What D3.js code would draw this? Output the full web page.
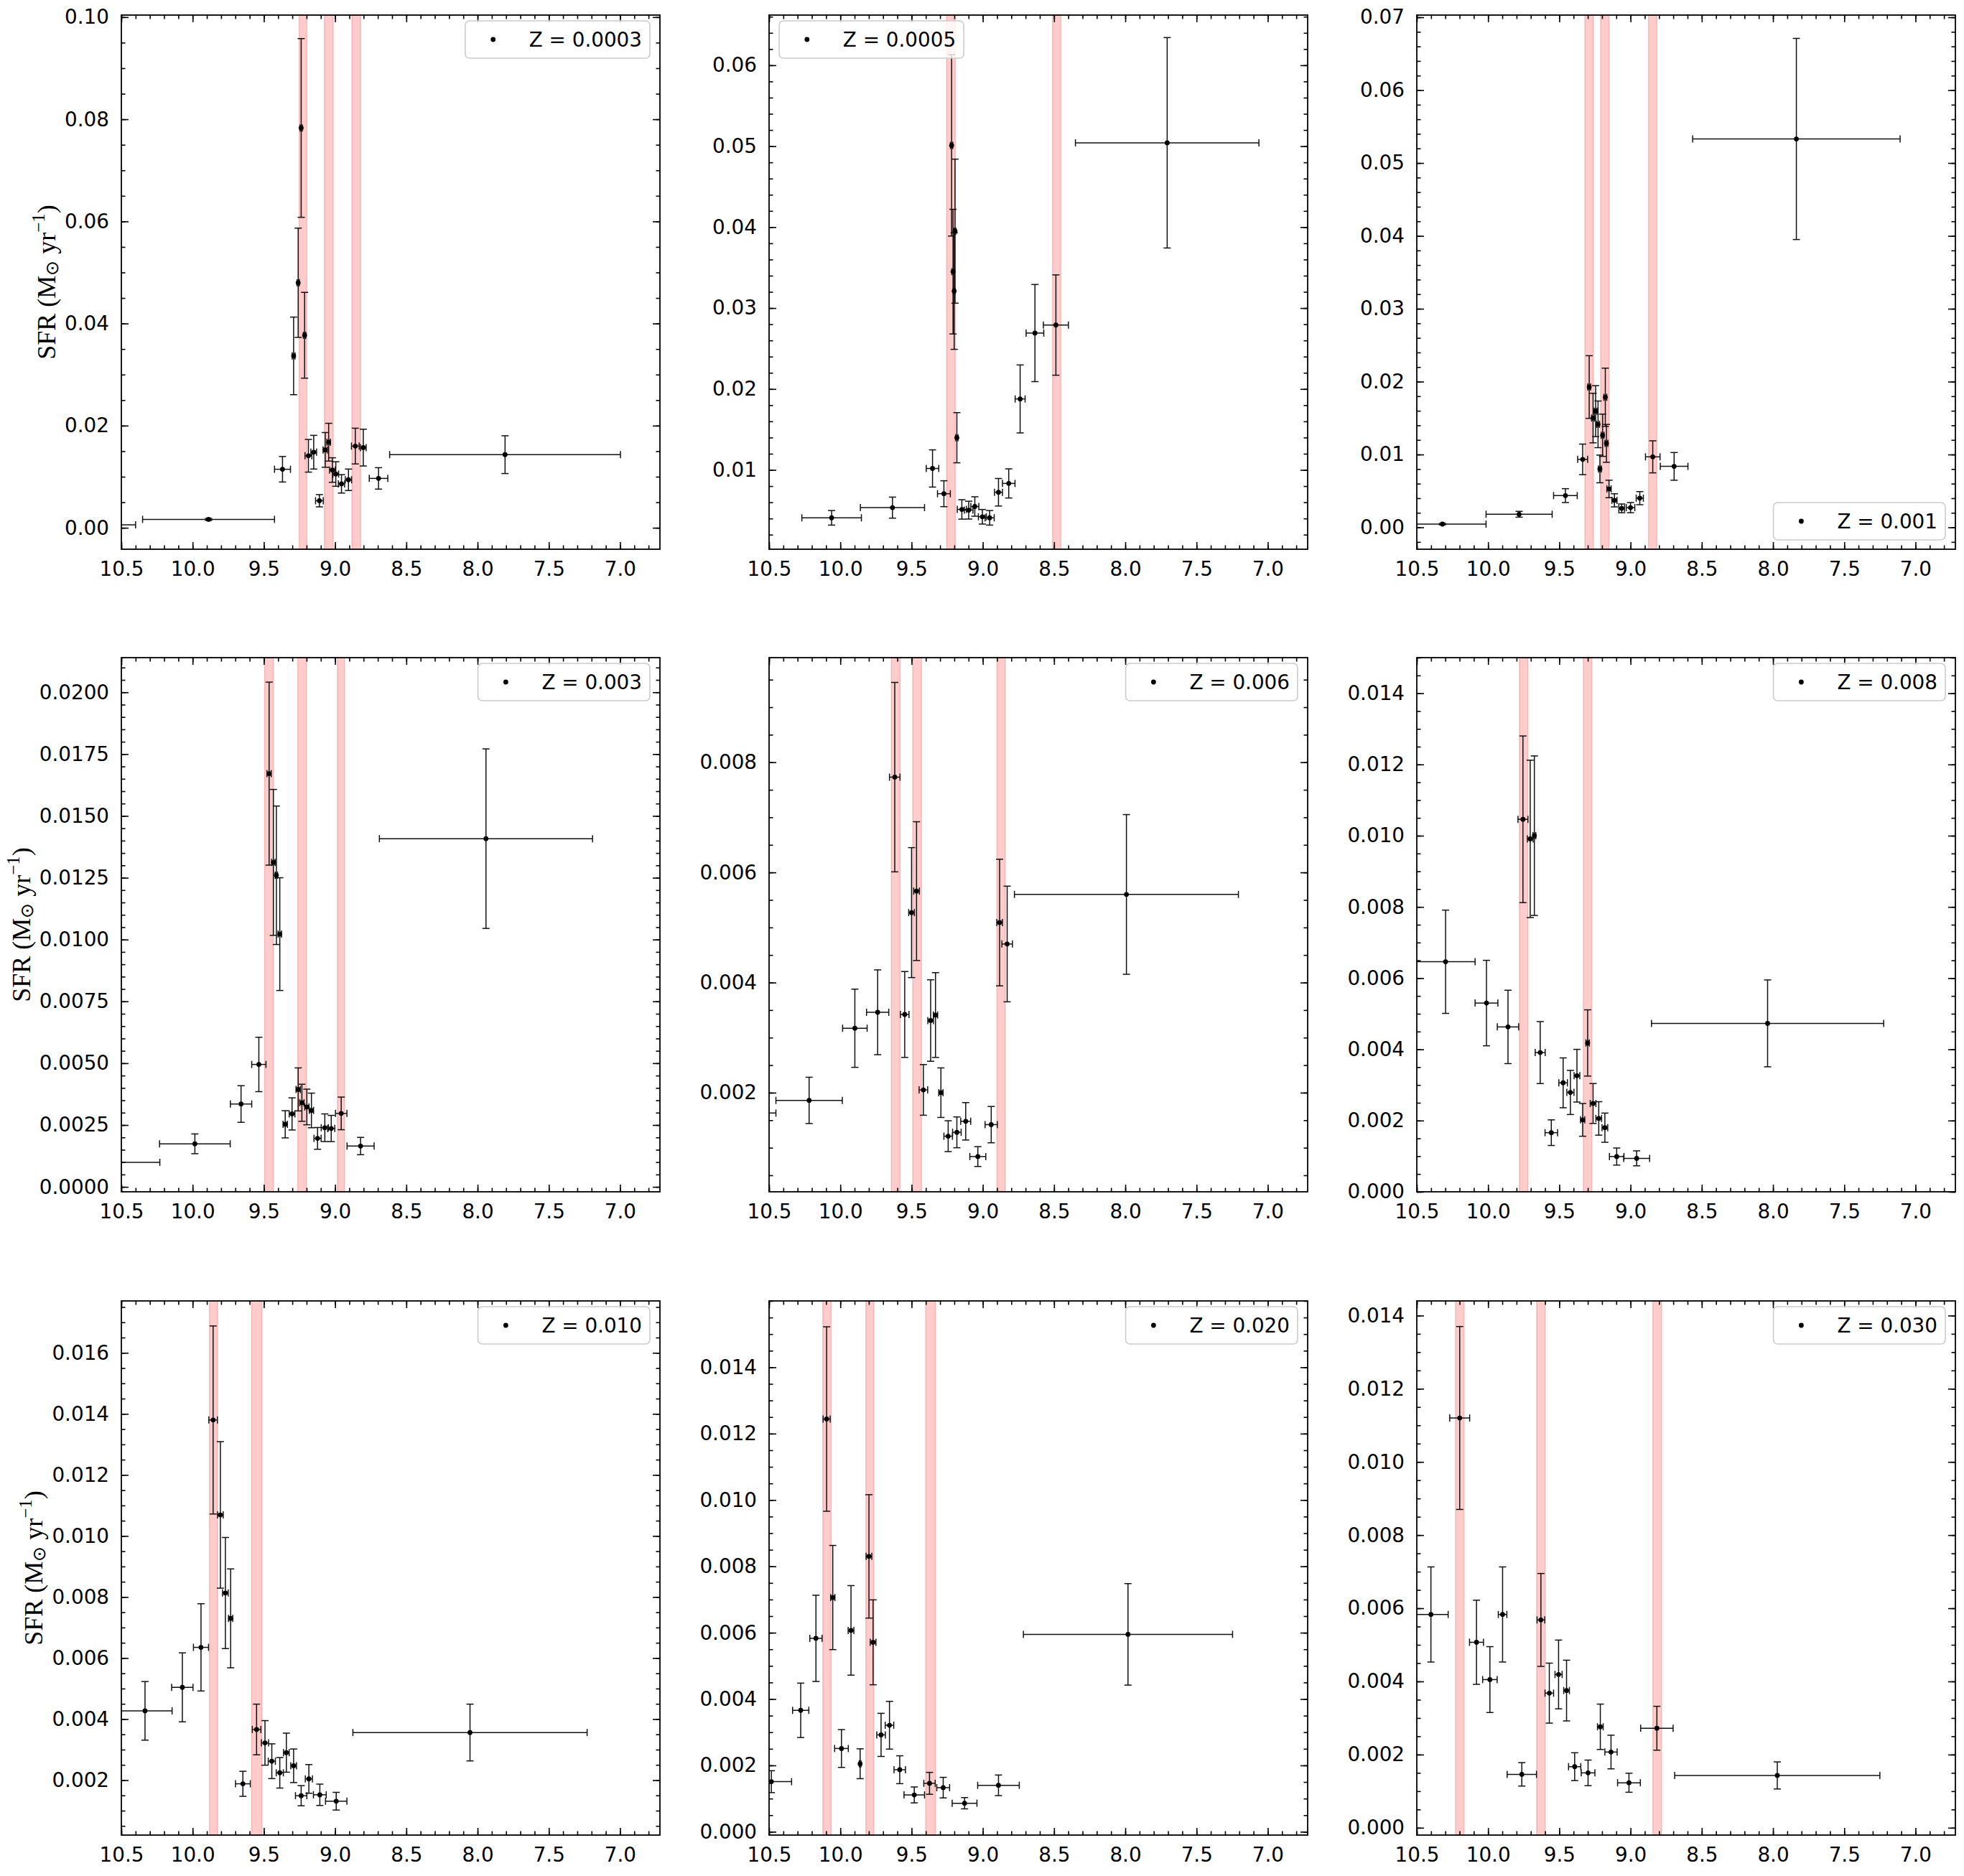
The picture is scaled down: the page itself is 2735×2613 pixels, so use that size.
<!DOCTYPE html>
<html>
<head>
<meta charset="utf-8">
<script src="https://cdn.jsdelivr.net/npm/d3@7"></script>
<style>
body{margin:0;background:#fff;}
</style>
</head>
<body>
<div id="chart"></div>
<script>
// each row: [log age, age err, SFR, SFR err]
var z0003 = [
	[10.65,0.25,0.00057,0.0002],[9.888,0.463,0.00165,0.0002],[9.369,0.056,0.01146,0.0025],
	[9.291,0.010,0.03366,0.0076],[9.259,0.008,0.04798,0.0107],[9.238,0.008,0.0783,0.0175],
	[9.214,0.008,0.0377,0.0084],[9.187,0.024,0.0141,0.0032],[9.150,0.020,0.0148,0.0033],
	[9.110,0.027,0.0053,0.0012],[9.069,0.015,0.01525,0.0034],[9.045,0.012,0.01676,0.0037],
	[9.019,0.020,0.01131,0.0024],[8.995,0.020,0.01053,0.0024],[8.955,0.022,0.0086,0.0018],
	[8.906,0.022,0.0094,0.0021],[8.858,0.027,0.0160,0.0035],[8.802,0.020,0.0157,0.0036],
	[8.695,0.065,0.00967,0.0021],[7.807,0.81,0.01432,0.0037]
];
var z0005 = [
	[10.061,0.209,0.00408,0.0009],[9.634,0.225,0.00534,0.0013],[9.353,0.044,0.01018,0.0023],
	[9.273,0.045,0.00706,0.0016],[9.219,0.008,0.0501,0.0112],[9.209,0.008,0.0345,0.0077],
	[9.201,0.006,0.0321,0.0072],[9.195,0.006,0.0395,0.0089],[9.182,0.008,0.01398,0.0031],
	[9.147,0.032,0.00512,0.0012],[9.099,0.030,0.00503,0.0011],[9.056,0.028,0.00548,0.0012],
	[9.003,0.028,0.00421,0.0009],[8.952,0.032,0.00408,0.0009],[8.890,0.028,0.00724,0.0017],
	[8.818,0.044,0.00833,0.0018],[8.738,0.035,0.01877,0.0042],[8.634,0.062,0.02691,0.0060],
	[8.487,0.088,0.0279,0.0062],[7.706,0.644,0.05042,0.0130]
];
var z001 = [
	[10.320,0.306,0.00045,0.0001],[9.782,0.232,0.0018,0.0004],[9.457,0.083,0.00436,0.00095],
	[9.336,0.035,0.00933,0.0021],[9.290,0.010,0.01926,0.0043],[9.263,0.010,0.0150,0.0034],
	[9.245,0.010,0.01595,0.0035],[9.228,0.010,0.01414,0.0032],[9.215,0.010,0.00802,0.0019],
	[9.196,0.010,0.01264,0.0029],[9.177,0.010,0.01785,0.0040],[9.169,0.010,0.01153,0.0026],
	[9.151,0.015,0.00527,0.0012],[9.113,0.018,0.00371,0.0009],[9.062,0.020,0.00261,0.0006],
	[9.000,0.030,0.00271,0.0007],[8.935,0.025,0.00401,0.0009],[8.844,0.051,0.00968,0.0022],
	[8.694,0.097,0.00837,0.0019],[7.836,0.728,0.0533,0.0138]
];
var z003 = [
	[10.6,0.37,0.00099,0.0002],[9.984,0.248,0.00174,0.0004],[9.660,0.075,0.00335,0.00074],
	[9.535,0.050,0.00495,0.0011],[9.463,0.015,0.01671,0.0037],[9.433,0.012,0.01312,0.00295],
	[9.412,0.008,0.0126,0.0028],[9.388,0.012,0.01022,0.00228],[9.350,0.015,0.00253,0.00055],
	[9.302,0.020,0.00295,0.00065],[9.259,0.015,0.00394,0.00087],[9.233,0.015,0.0034,0.00075],
	[9.198,0.015,0.00323,0.00072],[9.166,0.015,0.00309,0.0007],[9.123,0.025,0.00196,0.00044],
	[9.072,0.025,0.00239,0.00056],[9.027,0.025,0.00236,0.00053],[8.957,0.040,0.00297,0.00066],
	[8.821,0.095,0.00165,0.00035],[7.941,0.748,0.01408,0.00363]
];
var z006 = [
	[10.6,0.148,0.00163,0.0003],[10.219,0.233,0.00186,0.00042],[9.898,0.086,0.00317,0.00071],
	[9.738,0.078,0.00346,0.00077],[9.618,0.037,0.00773,0.00172],[9.548,0.030,0.00342,0.00078],
	[9.500,0.020,0.00527,0.00118],[9.465,0.020,0.00566,0.00126],[9.417,0.030,0.00205,0.00046],
	[9.366,0.020,0.00331,0.00074],[9.332,0.015,0.00341,0.00077],[9.294,0.015,0.0020,0.00045],
	[9.243,0.030,0.00121,0.00028],[9.182,0.030,0.00128,0.00028],[9.120,0.035,0.00148,0.00034],
	[9.035,0.056,0.00084,0.00018],[8.941,0.043,0.00142,0.00033],[8.882,0.020,0.00509,0.00115],
	[8.829,0.037,0.0047,0.00105],[7.992,0.786,0.0056,0.00145]
];
var z008 = [
	[10.298,0.207,0.00646,0.00145],[10.011,0.080,0.0053,0.0012],[9.860,0.075,0.00463,0.00103],
	[9.755,0.035,0.01046,0.00234],[9.704,0.020,0.00991,0.00221],[9.675,0.010,0.0100,0.00224],
	[9.634,0.035,0.00391,0.00087],[9.556,0.044,0.00166,0.00036],[9.473,0.030,0.00306,0.0007],
	[9.422,0.025,0.00279,0.00062],[9.376,0.020,0.00326,0.00074],[9.336,0.015,0.00202,0.00046],
	[9.301,0.012,0.00418,0.00093],[9.263,0.020,0.00248,0.00056],[9.223,0.020,0.00206,0.00047],
	[9.180,0.020,0.0018,0.00041],[9.097,0.051,0.00099,0.00024],[8.957,0.091,0.00094,0.00021],
	[8.038,0.815,0.00473,0.00122]
];
var z010 = [
	[10.334,0.19,0.00427,0.00096],[10.072,0.075,0.00504,0.00113],[9.941,0.053,0.00635,0.00143],
	[9.856,0.030,0.0138,0.00308],[9.805,0.020,0.01069,0.0024],[9.770,0.020,0.00813,0.00182],
	[9.733,0.015,0.0073,0.00162],[9.647,0.052,0.00188,0.00041],[9.551,0.030,0.00366,0.00083],
	[9.492,0.025,0.00322,0.00073],[9.444,0.025,0.00262,0.00057],[9.388,0.025,0.00224,0.0005],
	[9.342,0.020,0.0029,0.00064],[9.291,0.020,0.00247,0.00055],[9.238,0.040,0.00149,0.00033],
	[9.184,0.025,0.00204,0.00047],[9.107,0.045,0.00152,0.00035],[8.992,0.075,0.00131,0.00029],
	[8.053,0.822,0.00356,0.00093]
];
var z020 = [
	[10.484,0.142,0.00151,0.00033],[10.278,0.057,0.00366,0.00082],[10.171,0.043,0.00583,0.0013],
	[10.096,0.025,0.01244,0.00278],[10.053,0.015,0.00706,0.00157],[9.992,0.048,0.00251,0.00057],
	[9.925,0.020,0.00607,0.00135],[9.861,0.006,0.00205,0.00045],[9.799,0.020,0.0083,0.00186],
	[9.770,0.020,0.00571,0.00128],[9.714,0.030,0.00292,0.00065],[9.655,0.030,0.00321,0.00072],
	[9.583,0.040,0.00187,0.00042],[9.481,0.072,0.00111,0.00024],[9.374,0.040,0.00146,0.00033],
	[9.278,0.045,0.00133,0.00031],[9.128,0.087,0.00086,0.00017],[8.890,0.146,0.0014,0.00031],
	[7.981,0.734,0.00595,0.00153]
];
var z030 = [
	[10.401,0.121,0.00583,0.0013],[10.199,0.070,0.0112,0.0025],[10.081,0.049,0.00507,0.00115],
	[9.987,0.051,0.00405,0.0009],[9.898,0.030,0.00583,0.0013],[9.763,0.103,0.00146,0.00032],
	[9.629,0.027,0.00568,0.00127],[9.570,0.030,0.00368,0.00082],[9.505,0.025,0.00419,0.00094],
	[9.449,0.020,0.00375,0.00083],[9.392,0.043,0.00167,0.00038],[9.298,0.048,0.0015,0.00035],
	[9.212,0.020,0.00276,0.00062],[9.137,0.043,0.00207,0.00046],[9.011,0.080,0.00123,0.00026],
	[8.815,0.114,0.00272,0.0006],[7.970,0.72,0.00143,0.00037]
];

var metallicity = ['0.0003','0.0005','0.001','0.003','0.006','0.008','0.010','0.020','0.030'];
var series = [z0003,z0005,z001,z003,z006,z008,z010,z020,z030];

// shaded age ranges [from, to]
var bands = [
	[[9.252,9.198],[9.075,9.013],[8.882,8.821]],
	[[9.254,9.193],[8.511,8.452]],
	[[9.320,9.261],[9.210,9.151],[8.874,8.815]],
	[[9.495,9.433],[9.262,9.201],[8.984,8.933]],
	[[9.642,9.580],[9.492,9.430],[8.901,8.842]],
	[[9.780,9.720],[9.331,9.272]],
	[[9.882,9.824],[9.586,9.513]],
	[[10.123,10.064],[9.821,9.765],[9.401,9.332]],
	[[10.228,10.169],[9.659,9.599],[8.844,8.782]]
];

var xDomain = [10.5, 6.72];
var xTicks = [10.5,10.0,9.5,9.0,8.5,8.0,7.5,7.0];
var yDomains = [
	[-0.0042,0.1004],[0.0002,0.0662],[-0.0030,0.0703],
	[-0.0002,0.0214],[0.0002,0.0099],[0,0.0150],
	[0.0002,0.0177],[-0.0001,0.0160],[-0.0002,0.0144]
];
var yTicks = [
	[0,0.02,0.04,0.06,0.08,0.10],
	[0.01,0.02,0.03,0.04,0.05,0.06],
	[0,0.01,0.02,0.03,0.04,0.05,0.06,0.07],
	[0,0.0025,0.005,0.0075,0.01,0.0125,0.015,0.0175,0.02],
	[0.002,0.004,0.006,0.008],
	[0,0.002,0.004,0.006,0.008,0.010,0.012,0.014],
	[0.002,0.004,0.006,0.008,0.010,0.012,0.014,0.016],
	[0,0.002,0.004,0.006,0.008,0.010,0.012,0.014],
	[0,0.002,0.004,0.006,0.008,0.010,0.012,0.014]
];
var yFormats = ['.2f','.2f','.2f','.4f','.3f','.3f','.3f','.3f','.3f'];
var yMinorStep = [0.005,0.002,0.002,0.0005,0.0005,0.0005,0.0005,0.0005,0.0005];
var legendCorner = ['ur','ul','lr','ur','ur','ur','ur','ur','ur'];

////////////
var W = 2735, H = 2613;
var colLeft = [169,1071,1973], rowTop = [21,916,1812];
var pw = 750, ph = 744;
var fs = 27.8;

var svg = d3.select('#chart').append('svg')
	.attr('width', W).attr('height', H)
	.style('background', '#fff');

var x = d3.scaleLinear().domain(xDomain).range([0, pw]);

function minorVals(dom, step){
	var lo = Math.min(dom[0], dom[1]), hi = Math.max(dom[0], dom[1]);
	var out = [];
	for (var k = Math.ceil(lo/step - 1e-9); k*step <= hi + 1e-12; k++) out.push(+(k*step).toFixed(6));
	return out;
}

function styleAxis(sel){
	sel.select('.domain').remove();
	sel.selectAll('line').attr('stroke', '#000').attr('stroke-width', 1.6);
	sel.selectAll('text').attr('fill', '#000')
		.style('font-family', '"DejaVu Sans", sans-serif').style('font-size', fs + 'px');
}

series.forEach(function(rows, i){
	var col = i % 3, row = Math.floor(i / 3);
	var g = svg.append('g').attr('transform', 'translate(' + colLeft[col] + ',' + rowTop[row] + ')');
	var y = d3.scaleLinear().domain(yDomains[i]).range([ph, 0]);

	g.append('clipPath').attr('id', 'clip' + i)
		.append('rect').attr('width', pw).attr('height', ph);

	var plot = g.append('g').attr('clip-path', 'url(#clip' + i + ')');

	// shaded bands
	plot.selectAll('rect.band').data(bands[i]).enter().append('rect')
		.attr('class', 'band')
		.attr('x', function(d){ return Math.min(x(d[0]), x(d[1])); })
		.attr('width', function(d){ return Math.abs(x(d[1]) - x(d[0])); })
		.attr('y', -2).attr('height', ph + 4)
		.attr('fill', 'rgba(255,0,0,0.2)')
		.attr('stroke', 'rgba(230,60,60,0.25)').attr('stroke-width', 1.5);

	// error bars
	var cap = 5;
	var eb = plot.selectAll('g.eb').data(rows).enter().append('g').attr('class', 'eb')
		.attr('stroke', '#111').attr('stroke-width', 1.5);
	eb.append('line')
		.attr('x1', function(d){ return x(d[0]); }).attr('x2', function(d){ return x(d[0]); })
		.attr('y1', function(d){ return y(d[2] - d[3]); }).attr('y2', function(d){ return y(d[2] + d[3]); });
	eb.append('line')
		.attr('x1', function(d){ return x(d[0] + d[1]); }).attr('x2', function(d){ return x(d[0] - d[1]); })
		.attr('y1', function(d){ return y(d[2]); }).attr('y2', function(d){ return y(d[2]); });
	[-1, 1].forEach(function(s){
		eb.append('line')
			.attr('x1', function(d){ return x(d[0]) - cap; }).attr('x2', function(d){ return x(d[0]) + cap; })
			.attr('y1', function(d){ return y(d[2] + s*d[3]); }).attr('y2', function(d){ return y(d[2] + s*d[3]); });
		eb.append('line')
			.attr('x1', function(d){ return x(d[0] + s*d[1]); }).attr('x2', function(d){ return x(d[0] + s*d[1]); })
			.attr('y1', function(d){ return y(d[2]) - cap; }).attr('y2', function(d){ return y(d[2]) + cap; });
	});
	plot.selectAll('circle.pt').data(rows).enter().append('circle').attr('class', 'pt')
		.attr('cx', function(d){ return x(d[0]); })
		.attr('cy', function(d){ return y(d[2]); })
		.attr('r', 3.4).attr('fill', '#000');

	// axes, ticks inward on all four sides
	var xMinor = minorVals(xDomain, 0.1), yMinor = minorVals(yDomains[i], yMinorStep[i]);
	g.append('g').attr('transform', 'translate(0,' + ph + ')')
		.call(d3.axisBottom(x).tickValues(xMinor).tickSize(-5.5).tickFormat('')).call(styleAxis);
	g.append('g').attr('transform', 'translate(0,' + ph + ')')
		.call(d3.axisBottom(x).tickValues(xTicks).tickSize(-10).tickPadding(17).tickFormat(d3.format('.1f'))).call(styleAxis);
	g.append('g')
		.call(d3.axisTop(x).tickValues(xMinor).tickSize(-5.5).tickFormat('')).call(styleAxis);
	g.append('g')
		.call(d3.axisTop(x).tickValues(xTicks).tickSize(-10).tickFormat('')).call(styleAxis);
	g.append('g')
		.call(d3.axisLeft(y).tickValues(yMinor).tickSize(-5.5).tickFormat('')).call(styleAxis);
	var yAx = g.append('g')
		.call(d3.axisLeft(y).tickValues(yTicks[i]).tickSize(-10).tickPadding(17).tickFormat(d3.format(yFormats[i]))).call(styleAxis);
	g.append('g').attr('transform', 'translate(' + pw + ',0)')
		.call(d3.axisRight(y).tickValues(yMinor).tickSize(-5.5).tickFormat('')).call(styleAxis);
	g.append('g').attr('transform', 'translate(' + pw + ',0)')
		.call(d3.axisRight(y).tickValues(yTicks[i]).tickSize(-10).tickFormat('')).call(styleAxis);

	g.append('rect').attr('width', pw).attr('height', ph)
		.attr('fill', 'none').attr('stroke', '#000').attr('stroke-width', 1.8);

	// y label on the left column only, placed left of the widest tick label
	if (col === 0) {
		var maxw = 0;
		yAx.selectAll('text').each(function(){ maxw = Math.max(maxw, this.getComputedTextLength()); });
		var lab = g.append('text')
			.attr('transform', 'translate(' + (-17 - maxw - 25) + ',' + (ph / 2) + ') rotate(-90)')
			.attr('text-anchor', 'middle').attr('dominant-baseline', 'central')
			.style('font-family', '"Liberation Serif", "Times New Roman", serif')
			.style('font-size', '36px').attr('fill', '#000');
		lab.append('tspan').text('SFR (M');
		lab.append('tspan').text('\u2299').attr('dy', 7).style('font-size', '25px');
		lab.append('tspan').text(' yr').attr('dy', -7);
		lab.append('tspan').text('\u22121').attr('dy', -12).style('font-size', '25px');
		lab.append('tspan').text(')').attr('dy', 12);
	}

	// legend
	var lh = 52;
	var lg = g.append('g');
	var lrect = lg.append('rect').attr('rx', 6).attr('ry', 6)
		.attr('fill', 'rgba(255,255,255,0.8)').attr('stroke', '#cccccc').attr('stroke-width', 1.6);
	lg.append('circle').attr('cx', 11 + fs).attr('cy', lh / 2).attr('r', 3.4).attr('fill', '#000');
	var lt = lg.append('text').attr('x', 11 + 2.8*fs).attr('y', lh / 2 + 10)
		.style('font-family', '"DejaVu Sans", sans-serif').style('font-size', fs + 'px')
		.attr('fill', '#000').text('Z = ' + metallicity[i]);
	var lw = 11 + 2.8*fs + lt.node().getComputedTextLength() + 11;
	lrect.attr('width', lw).attr('height', lh);
	var c = legendCorner[i];
	var lx = c === 'ul' ? 14 : pw - 14 - lw;
	var ly = c === 'lr' ? ph - 13 - lh : 8;
	lg.attr('transform', 'translate(' + lx + ',' + ly + ')');
});
////////////
</script>
</body>
</html>
